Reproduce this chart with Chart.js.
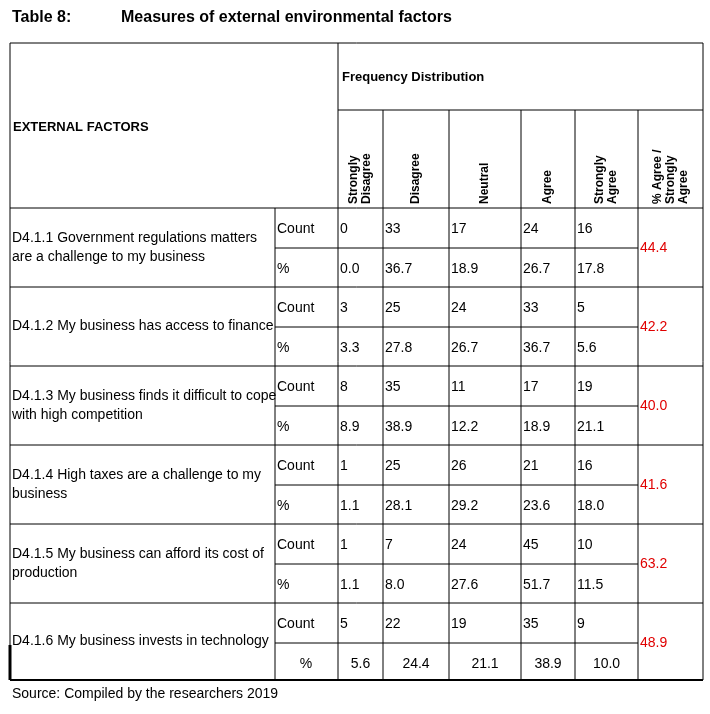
<!DOCTYPE html>
<html><head><meta charset="utf-8">
<script src="https://cdn.jsdelivr.net/npm/chart.js@4/dist/chart.umd.min.js"></script>
<style>html,body{margin:0;background:#fff}#wrap{width:710px;height:714px}</style>
</head><body><div id="wrap"><canvas id="c" width="710" height="714"></canvas></div>
<script>
const items = [
  'D4.1.1 Government regulations matters|are a challenge to my business',
  'D4.1.2 My business has access to finance',
  'D4.1.3 My business finds it difficult to cope|with high competition',
  'D4.1.4 High taxes are a challenge to my|business',
  'D4.1.5 My business can afford its cost of|production',
  'D4.1.6 My business invests in technology'
];
const scaleLabels = ['Strongly|Disagree', 'Disagree', 'Neutral', 'Agree', 'Strongly|Agree', '% Agree /|Strongly|Agree'];
const counts = [
  [0, 33, 17, 24, 16], [3, 25, 24, 33, 5], [8, 35, 11, 17, 19],
  [1, 25, 26, 21, 16], [1, 7, 24, 45, 10], [5, 22, 19, 35, 9]
];
const percents = [
  ['0.0', '36.7', '18.9', '26.7', '17.8'], ['3.3', '27.8', '26.7', '36.7', '5.6'],
  ['8.9', '38.9', '12.2', '18.9', '21.1'], ['1.1', '28.1', '29.2', '23.6', '18.0'],
  ['1.1', '8.0', '27.6', '51.7', '11.5'], ['5.6', '24.4', '21.1', '38.9', '10.0']
];
const agreeShare = ['44.4', '42.2', '40.0', '41.6', '63.2', '48.9'];

// layout constants (pixel space of the hidden linear scales)
const colX = [10, 275, 338, 383, 449, 521, 575, 638, 703];
const tableTop = 43, freqLine = 110, headBottom = 208, rowH = 79, tableBottom = 680;

const tablePlugin = {
  id: 'table',
  afterDraw(chart) {
    const ctx = chart.ctx, sx = chart.scales.x, sy = chart.scales.y;
    const X = v => sx.getPixelForValue(v), Y = v => sy.getPixelForValue(v);
    const line = (x1, y1, x2, y2, w = 1) => {
      ctx.beginPath(); ctx.lineWidth = w; ctx.strokeStyle = '#000';
      ctx.moveTo(X(x1), Y(y1)); ctx.lineTo(X(x2), Y(y2)); ctx.stroke();
    };
    ctx.save();
    ctx.fillStyle = '#000'; ctx.textBaseline = 'middle'; ctx.textAlign = 'left';
    ctx.font = 'bold 16px "Liberation Sans", Arial';
    ctx.fillText('Table 8:', X(12), Y(18));
    ctx.fillText('Measures of external environmental factors', X(121), Y(18));

    line(colX[0], tableTop, colX[8], tableTop);
    line(colX[0], tableTop, colX[0], tableBottom);
    line(colX[8], tableTop, colX[8], tableBottom);
    line(colX[2], tableTop, colX[2], tableBottom);
    line(colX[2], freqLine, colX[8], freqLine);
    for (let c = 3; c < 8; c++) line(colX[c], freqLine, colX[c], tableBottom);
    line(colX[1], headBottom, colX[1], tableBottom);
    line(colX[0], headBottom, colX[8], headBottom);
    line(colX[0], tableBottom, colX[8], tableBottom, 2);
    line(colX[0], tableBottom - 35, colX[0], tableBottom, 3);

    ctx.font = 'bold 13px "Liberation Sans", Arial';
    ctx.fillText('EXTERNAL FACTORS', X(13), Y(127));
    ctx.fillText('Frequency Distribution', X(342), Y(77));

    scaleLabels.forEach((lab, i) => {
      const parts = lab.split('|');
      const cx = (X(colX[i + 2]) + X(colX[i + 3])) / 2;
      ctx.save();
      ctx.translate(cx, Y(204));
      ctx.rotate(-Math.PI / 2);
      ctx.font = 'bold 12px "Liberation Sans", Arial';
      const off = (parts.length - 1) * 6.5;
      parts.forEach((p, k) => ctx.fillText(p, 0, -off + k * 13));
      ctx.restore();
    });

    items.forEach((it, r) => {
      const y0 = headBottom + r * rowH, y1 = Math.min(y0 + rowH, tableBottom), mid = y0 + 40;
      if (r > 0) line(colX[0], y0, colX[8], y0);
      line(colX[1], mid, colX[7], mid);
      ctx.font = '14px "Liberation Sans", Arial';
      ctx.fillStyle = '#000';
      const parts = it.split('|');
      const ty = (y0 + y1) / 2 - (parts.length - 1) * 9.5;
      parts.forEach((p, k) => ctx.fillText(p, X(12), Y(ty + k * 19)));
      const last = r === items.length - 1;
      ctx.fillText('Count', X(277), Y(y0 + 21));
      if (last) { ctx.textAlign = 'center'; ctx.fillText('%', X(306), Y(mid + 21)); ctx.textAlign = 'left'; }
      else ctx.fillText('%', X(277), Y(mid + 21));
      counts[r].forEach((v, c) => ctx.fillText(String(v), X(colX[c + 2] + 2), Y(y0 + 21)));
      percents[r].forEach((v, c) => {
        if (last) {
          ctx.textAlign = 'center';
          ctx.fillText(v, (X(colX[c + 2]) + X(colX[c + 3])) / 2, Y(mid + 21));
          ctx.textAlign = 'left';
        } else ctx.fillText(v, X(colX[c + 2] + 2), Y(mid + 21));
      });
      ctx.fillStyle = '#e00000';
      ctx.fillText(agreeShare[r], X(colX[7] + 2), Y(mid));
    });

    ctx.fillStyle = '#000';
    ctx.font = '14px "Liberation Sans", Arial';
    ctx.fillText('Source: Compiled by the researchers 2019', X(12), Y(694));
    ctx.restore();
  }
};

new Chart(document.getElementById('c'), {
  type: 'scatter',
  data: { datasets: [{ data: [] }] },
  options: {
    responsive: false, animation: false,
    layout: { padding: 0 },
    plugins: { legend: { display: false }, tooltip: { enabled: false } },
    scales: {
      x: { type: 'linear', min: 0, max: 710, display: false },
      y: { type: 'linear', min: 0, max: 714, reverse: true, display: false }
    }
  },
  plugins: [tablePlugin]
});
</script></body></html>
